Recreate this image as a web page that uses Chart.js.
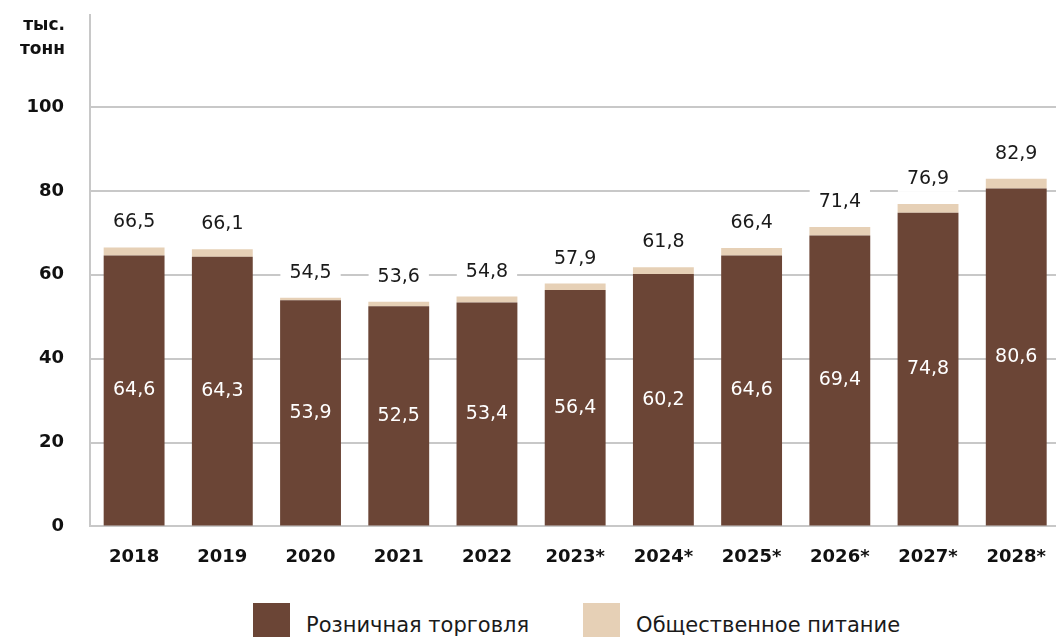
<!DOCTYPE html>
<html>
<head>
<meta charset="utf-8">
<script src="https://cdn.jsdelivr.net/npm/chart.js@4"></script>
<style>
  html, body { margin: 0; padding: 0; background: #fff; overflow: hidden; width: 1056px; height: 637px; }
  #wrap { position: relative; width: 1066px; height: 610px; margin-top: -22px; }
  #legend { position: absolute; top: 603px; left: 253px; display: flex; align-items: flex-start;
            font-family: "DejaVu Sans", sans-serif; font-size: 21px; color: #1a1a1a; }
  #legend .item { display: flex; align-items: center; margin-right: 54px; }
  #legend .box { width: 37px; height: 36px; margin-right: 16px; }
  #legend .txt { padding-top: 8px; }
</style>
</head>
<body>
<div id="wrap"><canvas id="chart"></canvas></div>
<div id="legend"></div>
<script>
const years = ['2018', '2019', '2020', '2021', '2022', '2023*', '2024*', '2025*', '2026*', '2027*', '2028*'];
const retail = [64.6, 64.3, 53.9, 52.5, 53.4, 56.4, 60.2, 64.6, 69.4, 74.8, 80.6];
const totals = [66.5, 66.1, 54.5, 53.6, 54.8, 57.9, 61.8, 66.4, 71.4, 76.9, 82.9];
// catering = total minus retail, rounded to one decimal
const catering = totals.map((t, i) => Math.round((t - retail[i]) * 10) / 10);
const yTicks = [0, 20, 40, 60, 80, 100];

const FONT = '"DejaVu Sans", sans-serif';
const fmt = v => v.toFixed(1).replace('.', ',');

// value labels: inside retail bar + total above with white backing
const valueLabels = {
  id: 'valueLabels',
  afterDatasetsDraw(chart) {
    const {ctx} = chart;
    const m0 = chart.getDatasetMeta(0);
    const m1 = chart.getDatasetMeta(1);
    ctx.save();
    ctx.textAlign = 'center';
    ctx.textBaseline = 'middle';
    ctx.font = `400 19px ${FONT}`;
    m0.data.forEach((bar, i) => {
      ctx.fillStyle = '#ffffff';
      ctx.fillText(fmt(retail[i]), bar.x, (bar.y + bar.base) / 2);
    });
    m1.data.forEach((bar, i) => {
      const txt = fmt(totals[i]);
      const w = ctx.measureText(txt).width + 18;
      const y = bar.y - 25;
      ctx.fillStyle = '#ffffff';
      ctx.fillRect(bar.x - w / 2, y - 13, w, 26);
      ctx.fillStyle = '#1a1a1a';
      ctx.fillText(txt, bar.x, y);
    });
    ctx.restore();
  }
};

const unitLabel = {
  id: 'unitLabel',
  afterDraw(chart) {
    const {ctx} = chart;
    ctx.save();
    ctx.font = `700 17px ${FONT}`;
    ctx.fillStyle = '#111';
    ctx.textAlign = 'right';
    ctx.textBaseline = 'middle';
    ctx.fillText('тыс.', 65, 48);
    ctx.fillText('тонн', 65, 72);
    ctx.restore();
  }
};

const chart = new Chart(document.getElementById('chart'), {
  type: 'bar',
  data: {
    labels: years,
    datasets: [
      {label: 'Розничная торговля', data: retail, backgroundColor: '#6b4536'},
      {label: 'Общественное питание', data: catering, backgroundColor: '#e6d0b6'}
    ]
  },
  options: {
    responsive: true,
    maintainAspectRatio: false,
    animation: false,
    layout: {padding: {top: 14, right: 0, left: 0, bottom: 0}},
    datasets: {bar: {categoryPercentage: 1, barPercentage: 0.69}},
    plugins: {
      tooltip: {enabled: false},
      legend: {display: false}
    },
    scales: {
      x: {
        stacked: true,
        grid: {display: false, drawTicks: false},
        border: {display: true, color: '#c8c8c8', width: 2},
        ticks: {color: '#111', padding: 20, font: {family: FONT, size: 18, weight: '700'}}
      },
      y: {
        stacked: true,
        min: 0, max: 122,
        afterFit(scale) { scale.width = 90; },
        afterBuildTicks(scale) { scale.ticks = yTicks.map(v => ({value: v})); },
        grid: {color: '#c8c8c8', lineWidth: 2, drawTicks: false},
        border: {display: true, color: '#c8c8c8', width: 2},
        ticks: {color: '#111', padding: 26, font: {family: FONT, size: 18, weight: '700'}}
      }
    }
  },
  plugins: [valueLabels, unitLabel]
});

// html legend built from the datasets
const legendEl = document.getElementById('legend');
chart.data.datasets.forEach(ds => {
  const item = document.createElement('div');
  item.className = 'item';
  const box = document.createElement('span');
  box.className = 'box';
  box.style.background = ds.backgroundColor;
  const txt = document.createElement('span');
  txt.className = 'txt';
  txt.textContent = ds.label;
  item.append(box, txt);
  legendEl.append(item);
});
</script>
</body>
</html>
